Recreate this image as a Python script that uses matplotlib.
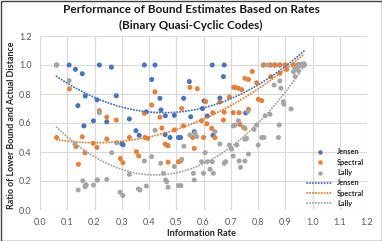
import matplotlib
matplotlib.use('Agg')
import matplotlib.pyplot as plt
import numpy as np
from matplotlib.patches import Rectangle
from matplotlib.lines import Line2D

# ---------------- data ----------------
# (some points sit underneath markers of other series in the reference)
jensen_x = [0.061, 0.107, 0.13, 0.155, 0.218, 0.262, 0.383, 0.422, 0.41, 0.632, 0.676, 0.673, 0.548,
            0.166, 0.28, 0.209, 0.44, 0.527, 0.602, 0.66, 0.139, 0.444, 0.39, 0.596, 0.196,
            0.245, 0.328, 0.46, 0.493, 0.553, 0.614, 0.755, 0.161, 0.352, 0.364, 0.566, 0.635,
            0.459, 0.477, 0.508, 0.516, 0.30, 0.305, 0.468,
            0.82, 0.845, 0.862, 0.88, 0.90, 0.93, 0.948, 0.96, 0.969]
jensen_y = [1.0, 1.0, 0.97, 0.94, 1.0, 0.985, 1.0, 1.0, 0.90, 1.0, 1.0, 0.92, 0.886,
            0.786, 0.788, 0.76, 0.77, 0.77, 0.752, 0.772, 0.72, 0.69, 0.677, 0.70, 0.615,
            0.608, 0.628, 0.65, 0.653, 0.643, 0.648, 0.669, 0.58, 0.547, 0.515, 0.54, 0.515,
            0.52, 0.50, 0.50, 0.50, 0.457, 0.45, 0.445,
            1.0, 1.0, 1.0, 1.0, 1.0, 1.0, 1.0, 1.0, 1.0]

spectral_x = [0.061, 0.108, 0.132, 0.141, 0.155, 0.165, 0.195, 0.209, 0.218, 0.245, 0.245, 0.28,
              0.295, 0.304, 0.328, 0.354, 0.362, 0.383, 0.385, 0.395, 0.41, 0.422, 0.44, 0.447,
              0.459, 0.47, 0.47, 0.493, 0.508, 0.516, 0.52, 0.526, 0.55, 0.577, 0.56, 0.566,
              0.60, 0.642, 0.593, 0.608, 0.612, 0.63, 0.634, 0.66, 0.673, 0.676, 0.695, 0.709,
              0.711, 0.716, 0.728, 0.74, 0.731, 0.734, 0.752, 0.752, 0.765, 0.765, 0.779, 0.795,
              0.801, 0.814, 0.82, 0.845, 0.862, 0.88, 0.90, 0.93, 0.847, 0.88, 0.905,
              0.948, 0.955, 0.96, 0.969, 0.169, 0.21]
spectral_y = [0.50, 0.835, 0.437, 0.315, 0.505, 0.395, 0.46, 0.432, 0.685, 0.64, 0.49, 0.62,
              0.355, 0.326, 0.50, 0.402, 0.372, 0.667, 0.50, 0.494, 0.724, 0.815, 0.64, 0.565,
              0.455, 0.443, 0.33, 0.552, 0.333, 0.338, 0.70, 0.58, 0.846, 0.836, 0.50, 0.425,
              0.50, 0.50, 0.616, 0.748, 0.595, 0.563, 0.671, 0.745, 0.62, 0.674, 0.78, 0.671,
              0.846, 0.846, 0.84, 0.83, 0.671, 0.59, 0.563, 0.908, 0.90, 0.694, 0.955, 0.878,
              0.763, 0.754, 1.0, 1.0, 1.0, 1.0, 1.0, 1.0, 0.92, 0.943, 0.97,
              1.0, 1.0, 1.0, 1.0, 0.172, 0.207]

lally_x = [0.061, 0.107, 0.128, 0.14, 0.157, 0.165, 0.169, 0.196, 0.21, 0.218, 0.245, 0.263,
           0.281, 0.294, 0.304, 0.328, 0.361, 0.367, 0.383, 0.39, 0.41, 0.422, 0.443, 0.453,
           0.461, 0.465, 0.47, 0.493, 0.508, 0.517, 0.52, 0.528, 0.55, 0.569, 0.563, 0.566,
           0.575, 0.593, 0.60, 0.606, 0.614, 0.624, 0.632, 0.636, 0.642, 0.66, 0.676, 0.681,
           0.695, 0.703, 0.709, 0.709, 0.716, 0.722, 0.728, 0.731, 0.736, 0.746, 0.752, 0.752,
           0.758, 0.763, 0.765, 0.785, 0.795, 0.801, 0.814, 0.822, 0.826, 0.834, 0.844, 0.859,
           0.875, 0.878, 0.88, 0.884, 0.893, 0.895, 0.921, 0.93, 0.936, 0.936, 0.948, 0.948,
           0.955, 0.96, 0.965, 0.969]
lally_y = [1.0, 0.893, 0.455, 0.138, 0.202, 0.161, 0.172, 0.172, 0.207, 0.67, 0.211, 0.395,
           0.464, 0.122, 0.10, 0.246, 0.145, 0.138, 0.338, 0.165, 0.368, 0.55, 0.322, 0.253,
           0.207, 0.195, 0.157, 0.30, 0.168, 0.168, 0.35, 0.44, 0.517, 0.529, 0.253, 0.207,
           0.506, 0.333, 0.253, 0.395, 0.333, 0.281, 0.333, 0.253, 0.54, 0.455, 0.322, 0.333,
           0.448, 0.42, 0.372, 0.58, 0.586, 0.448, 0.616, 0.338, 0.294, 0.57, 0.338, 0.488,
           0.494, 0.68, 0.386, 0.556, 0.586, 0.448, 0.50, 0.50, 0.65, 1.0, 0.66, 0.862,
           0.50, 0.586, 0.89, 0.84, 0.747, 0.73, 0.697, 0.954, 0.977, 0.92, 0.96, 0.99,
           1.0, 1.005, 0.995, 1.01]

series_names = ["Jensen", "Spectral", "Lally"]
x_ticks = [round(0.1 * i, 1) for i in range(13)]
y_ticks = [round(0.2 * i, 1) for i in range(7)]
title_lines = ["Performance of Bound Estimates Based on Rates", "(Binary Quasi-Cyclic Codes)"]
x_label = "Information Rate"
y_label = "Ratio of Lower Bound and Actual Distance"

# ---------------- style ----------------
colors = ["#4472C4", "#ED7D31", "#A5A5A5"]
FONT = "Lato"
W, H = 382, 241
fig = plt.figure(figsize=(W / 100, H / 100), dpi=100)
ax = fig.add_axes([40 / W, 1 - 210 / H, 327 / W, 174 / H])

all_x = [jensen_x, spectral_x, lally_x]
all_y = [jensen_y, spectral_y, lally_y]

for i, (xs, ys) in enumerate(zip(all_x, all_y)):
    ax.scatter(xs, ys, s=13, color=colors[i], edgecolors='none', zorder=3 + i * 0.1)

xmin = min(min(v) for v in all_x)
xmax = max(max(v) for v in all_x)
xx = np.linspace(xmin, xmax, 200)
for i, (xs, ys) in enumerate(zip(all_x, all_y)):
    c = np.polyfit(xs, ys, 2)
    ax.plot(xx, np.polyval(c, xx), color=colors[i], lw=1.4,
            linestyle=(0, (0.1, 1.4)), dash_capstyle='round', zorder=5)

handles_m, handles_l = [], []
for i in range(3):
    handles_m.append(Line2D([], [], marker='o', ls='none', ms=3.2, color=colors[i],
                            markeredgewidth=0, label=series_names[i]))
for i in range(3):
    handles_l.append(Line2D([], [], lw=1.4, ls=(0, (0.1, 1.4)), dash_capstyle='round',
                            color=colors[i], label=series_names[i]))

ax.set_xlim(0, 1.2)
ax.set_ylim(0, 1.2)
ax.set_xticks(x_ticks)
ax.set_yticks(y_ticks)
ax.set_xticklabels([f"{v:.1f}" for v in x_ticks])
ax.set_yticklabels([f"{v:.1f}" for v in y_ticks])
ax.grid(True, color="#D9D9D9", lw=0.8)
ax.set_axisbelow(True)
for s in ax.spines.values():
    s.set_visible(False)
ax.tick_params(length=0, labelsize=6.5, labelcolor="#595959", pad=6)
for lab in ax.get_xticklabels() + ax.get_yticklabels():
    lab.set_fontfamily(FONT)

leg = ax.legend(handles=handles_m + handles_l, loc='lower right',
                bbox_to_anchor=(1.0, 0.0), frameon=False,
                prop={'family': FONT, 'weight': 'bold', 'size': 5.3},
                handlelength=3.6, handletextpad=0.5, labelspacing=0.45,
                borderaxespad=0.2, borderpad=0.2)
for t in leg.get_texts():
    t.set_color("#262626")

t1 = fig.text(191 / W, 1 - 9.5 / H, title_lines[0], ha='center', va='center',
              fontfamily=FONT, fontweight='bold', fontsize=9, color="#1a1a1a")
t2 = fig.text(190.5 / W, 1 - 25 / H, title_lines[1], ha='center', va='center',
              fontfamily=FONT, fontweight='bold', fontsize=9, color="#1a1a1a")
xl = fig.text(202 / W, 1 - 233 / H, x_label, ha='center', va='center',
              fontfamily=FONT, fontweight='bold', fontsize=7, color="#262626")
yl = fig.text(12 / W, 1 - 125 / H, y_label, ha='center', va='center', rotation=90,
              fontfamily=FONT, fontweight='bold', fontsize=7, color="#262626")

fig.canvas.draw()
r = fig.canvas.get_renderer()
for t, target, use_h in [(t1, 256, False), (t2, 143, False), (xl, 70, False), (yl, 170, True)]:
    bb = t.get_window_extent(r)
    cur = bb.height if use_h else bb.width
    t.set_fontsize(t.get_fontsize() * target / cur)

fig.patches.append(Rectangle((0.5 / W, 0.5 / H), 1 - 1 / W, 1 - 1 / H, transform=fig.transFigure,
                             fill=False, edgecolor="#404040", lw=1.0))

fig.savefig("out.png", dpi=100, facecolor="white")
